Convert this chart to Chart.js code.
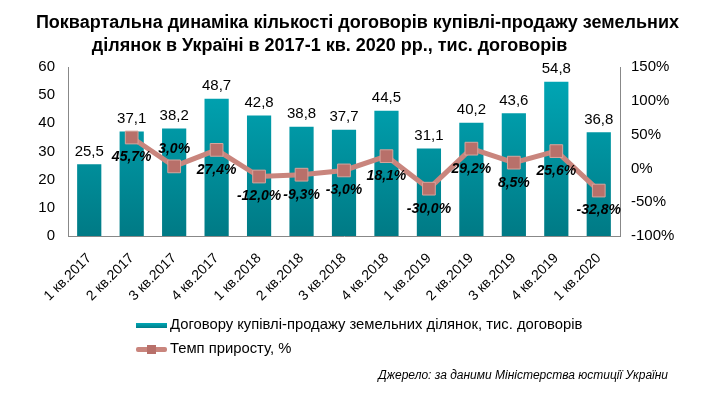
<!DOCTYPE html>
<html>
<head>
<meta charset="utf-8">
<script src="https://cdn.jsdelivr.net/npm/chart.js"></script>
<style>
  body { margin: 0; background: #fff; }
  #wrap { position: relative; width: 715px; height: 396px; font-family: "Liberation Sans", Arial, sans-serif; }
  #title { position: absolute; left: 0; top: 11px; width: 715px; text-align: center; font-family: "Liberation Sans Narrow", "Liberation Sans", Arial, sans-serif; font-weight: bold; font-size: 18px; line-height: 23px; color: #000; }
  #title span { display: block; }
  .leg { position: absolute; left: 136px; font-size: 14.8px; color: #000; white-space: nowrap; }
  .sw { position: absolute; }
  #source { position: absolute; right: 47px; top: 368px; font-size: 12px; font-style: italic; font-family: "Liberation Sans Narrow", "Liberation Sans", Arial, sans-serif; color: #000; }
</style>
</head>
<body>
<div id="wrap">
  <canvas id="chart" width="715" height="396"></canvas>
  <div id="title"><span>Поквартальна динаміка кількості договорів купівлі-продажу земельних</span><span style="margin-right:56px">ділянок в Україні в 2017-1 кв. 2020 рр., тис. договорів</span></div>
  <div class="leg" style="top:316px;"><span class="sw" style="left:0;top:7px;width:31px;height:5px;background:linear-gradient(#00a8b6,#007d88);"></span><span style="margin-left:34px">Договору купівлі-продажу земельних ділянок, тис. договорів</span></div>
  <div class="leg" style="top:340px;"><span class="sw" style="left:0;top:7px;width:31px;height:5px;background:#c9857d;border-radius:2px;"></span><span class="sw" style="left:11px;top:5px;width:9px;height:9px;background:#b8706a;"></span><span style="margin-left:34px">Темп приросту, %</span></div>
  <div id="source">Джерело: за даними Міністерства юстиції України</div>
</div>
<script>
// ДАНІ
const quarters = ['1 кв.2017', '2 кв.2017', '3 кв.2017', '4 кв.2017', '1 кв.2018', '2 кв.2018', '3 кв.2018',
  '4 кв.2018', '1 кв.2019', '2 кв.2019', '3 кв.2019', '4 кв.2019', '1 кв.2020'];
const contracts = [25.5, 37.1, 38.2, 48.7, 42.8, 38.8, 37.7, 44.5, 31.1, 40.2, 43.6, 54.8, 36.8];
const growth = [null, 45.7, 3.0, 27.4, -12.0, -9.3, -3.0, 18.1, -30.0, 29.2, 8.5, 25.6, -32.8];
const leftTicks = [0, 10, 20, 30, 40, 50, 60];
const rightTicks = [-100, -50, 0, 50, 100, 150];

function fmt(v, d) {
  return v.toFixed(d).replace('.', ',');
}

// ПІДПИСИ ЗНАЧЕНЬ
const labelsPlugin = {
  id: 'labelsPlugin',
  afterDatasetsDraw(chart) {
    const ctx = chart.ctx;
    ctx.save();
    ctx.textAlign = 'center';
    ctx.fillStyle = '#000';

    ctx.font = '15px "Liberation Sans", Arial, sans-serif';
    ctx.textBaseline = 'bottom';
    chart.getDatasetMeta(0).data.forEach((bar, i) => {
      ctx.fillText(fmt(contracts[i], 1), bar.x, bar.y - 5);
    });

    ctx.font = 'italic bold 14px "Liberation Sans", Arial, sans-serif';
    ctx.textBaseline = 'middle';
    chart.getDatasetMeta(1).data.forEach((pt, i) => {
      if (growth[i] === null) return;
      const dy = i === 2 ? -17 : 20;
      ctx.fillText(fmt(growth[i], 1) + '%', pt.x, pt.y + dy);
    });
    ctx.restore();
  }
};

const ctx = document.getElementById('chart').getContext('2d');
const grad = ctx.createLinearGradient(0, 67, 0, 236);
grad.addColorStop(0, '#00a9b8');
grad.addColorStop(1, '#007a85');

new Chart(ctx, {
  data: {
    labels: quarters,
    datasets: [
      {
        type: 'bar',
        data: contracts,
        backgroundColor: grad,
        categoryPercentage: 1,
        barPercentage: 0.57,
        yAxisID: 'y',
        order: 2
      },
      {
        type: 'line',
        data: growth,
        borderColor: '#c9857d',
        borderWidth: 5,
        pointStyle: 'rect',
        pointRadius: 9,
        pointBackgroundColor: '#b8706a',
        pointBorderColor: '#d8a49c',
        pointBorderWidth: 1,
        yAxisID: 'y1',
        order: 1
      }
    ]
  },
  options: {
    responsive: false,
    animation: false,
    layout: { padding: { top: 67, left: 0, right: 0, bottom: 0 } },
    plugins: { legend: { display: false }, tooltip: { enabled: false } },
    scales: {
      x: {
        grid: { display: false, drawTicks: false },
        border: { color: '#888', width: 1 },
        ticks: { color: '#000', minRotation: 45, maxRotation: 45, padding: 14, font: { size: 14, family: '"Liberation Sans", Arial' } },
        afterFit(s) { s.height = 160; }
      },
      y: {
        position: 'left',
        min: 0, max: 60,
        afterBuildTicks(s) { s.ticks = leftTicks.map(v => ({ value: v })); },
        grid: { display: false },
        border: { color: '#888', width: 1 },
        ticks: { color: '#000', padding: 5, font: { size: 15, family: '"Liberation Sans", Arial' } },
        afterFit(s) { s.width = 68; }
      },
      y1: {
        position: 'right',
        min: -100, max: 150,
        afterBuildTicks(s) { s.ticks = rightTicks.map(v => ({ value: v })); },
        grid: { display: false, drawOnChartArea: false, drawTicks: true, tickLength: 5, color: '#888' },
        border: { color: '#888', width: 1 },
        ticks: { color: '#000', padding: 6, callback: v => v + '%', font: { size: 15, family: '"Liberation Sans", Arial' } },
        afterFit(s) { s.width = 95; }
      }
    }
  },
  plugins: [labelsPlugin]
});
</script>
</body>
</html>
